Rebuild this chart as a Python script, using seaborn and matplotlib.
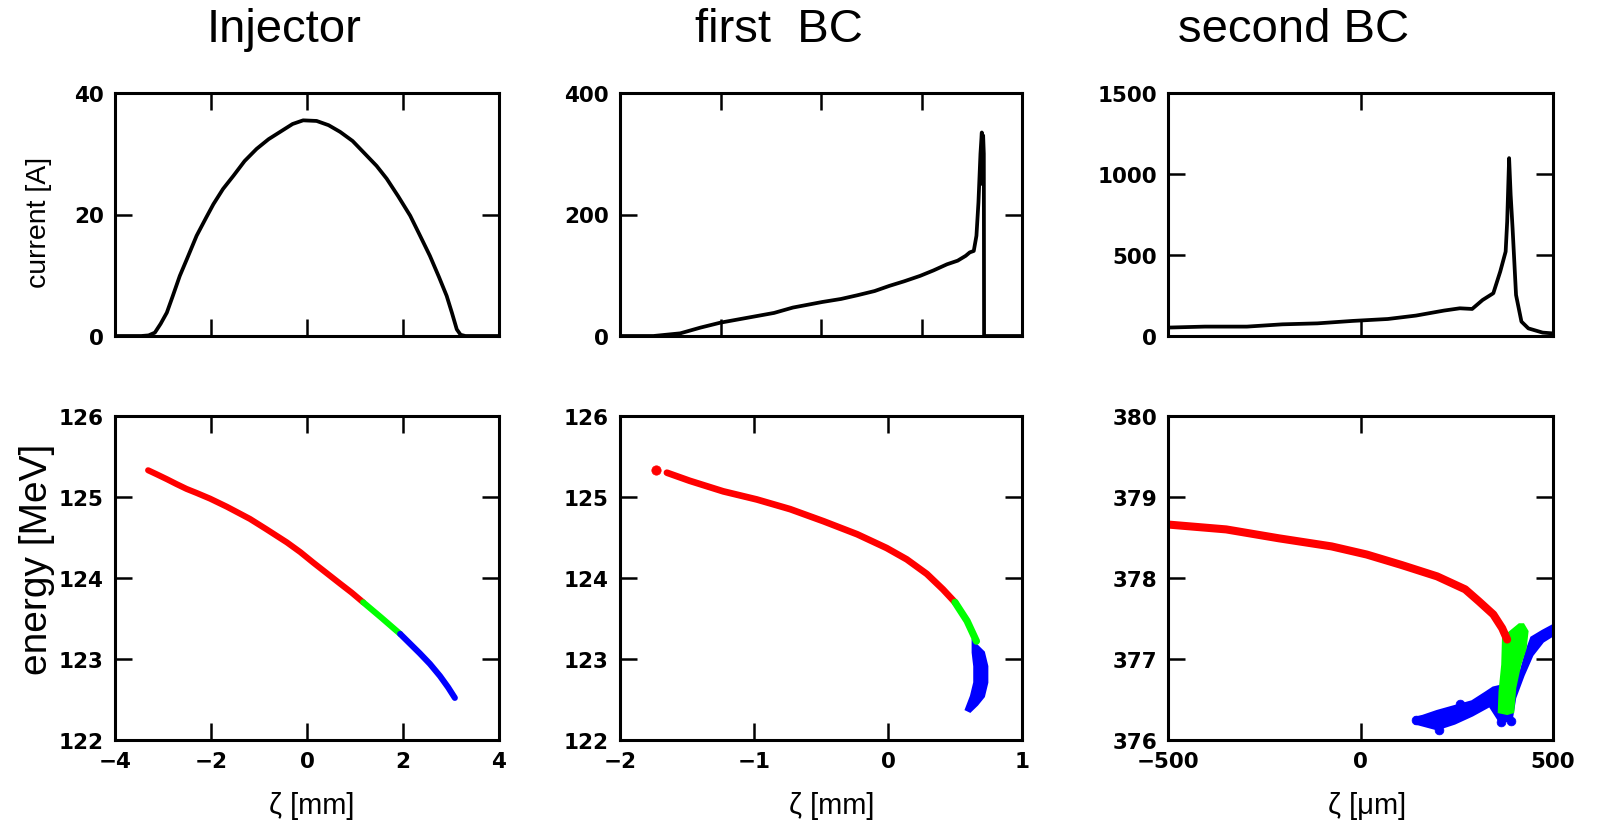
import matplotlib
matplotlib.use("Agg")
import matplotlib.pyplot as plt
import seaborn as sns
import pandas as pd

sns.set_style("ticks")
plt.rcParams['font.family'] = ['Liberation Sans', 'DejaVu Sans']
for key in ['text.color', 'axes.labelcolor', 'xtick.color', 'ytick.color', 'axes.edgecolor']:
    plt.rcParams[key] = 'black'

# column titles and axis labels
titles = ["Injector", "first  BC", "second BC"]
xlabels = ["\u03b6 [mm]", "\u03b6 [mm]", "\u03b6 [\u03bcm]"]
ylabels = ["current [A]", "energy [MeV]"]

# current profiles
inj_z = [-4, -3.45, -3.3, -3.17, -3.05, -2.92, -2.8, -2.65, -2.5, -2.30, -2.1, -1.95, -1.75,
         -1.53, -1.3, -1.05, -0.8, -0.56, -0.3, -0.08, 0.2, 0.45, 0.69, 0.95, 1.17, 1.45,
         1.66, 1.9, 2.15, 2.35, 2.56, 2.75, 2.91, 3.02, 3.12, 3.2, 3.3, 4]
inj_I = [0, 0, 0.1, 0.55, 2.0, 3.85, 6.5, 9.9, 12.7, 16.5, 19.5, 21.7, 24.2,
         26.4, 28.8, 30.8, 32.4, 33.6, 34.9, 35.5, 35.4, 34.7, 33.6, 32.1, 30.3, 28.0,
         25.9, 23.0, 19.8, 16.6, 13.2, 9.7, 6.6, 3.8, 1.1, 0.2, 0, 0]

bc1_z = [-2, -1.75, -1.55, -1.40, -1.25, -1.0, -0.85, -0.71, -0.49, -0.35, -0.23, -0.1, 0.01,
         0.12, 0.24, 0.34, 0.44, 0.52, 0.58, 0.61, 0.64, 0.66, 0.675, 0.69, 0.70, 0.705,
         0.71, 0.715, 0.717, 1.0]
bc1_I = [0, 0, 4.4, 13.8, 22, 32, 38, 46.8, 56, 61, 67, 74, 82.5,
         90, 99, 108, 118, 124, 132, 137.6, 140, 165, 220, 300, 335, 250,
         330, 300, 0, 0]

bc2_z = [-500, -404, -295, -203, -112, -21, 71, 144, 217, 258, 290, 317, 345, 363, 377,
         381, 386, 390, 395, 404, 418, 436, 473, 500]
bc2_I = [52, 58, 58, 72, 78, 93, 105, 126, 157, 171, 167, 222, 264, 398, 521,
         707, 1098, 871, 665, 253, 89, 47, 21, 16]

# energy vs position, red / green / blue slices
inj_red_z = [-3.31, -3.13, -2.92, -2.72, -2.51, -2.30, -2.02, -1.67, -1.19, -0.84, -0.42,
             -0.14, 0.13, 0.41, 0.69, 0.93, 1.17]
inj_red_E = [125.33, 125.28, 125.22, 125.16, 125.10, 125.05, 124.98, 124.88, 124.73, 124.60, 124.44,
             124.32, 124.19, 124.06, 123.93, 123.82, 123.70]
inj_green_z = [1.17, 1.55, 1.94]
inj_green_E = [123.70, 123.51, 123.31]
inj_blue_z = [1.94, 2.35, 2.56, 2.77, 2.94, 3.08]
inj_blue_E = [123.31, 123.07, 122.94, 122.79, 122.65, 122.52]

bc1_red_z = [-1.65, -1.48, -1.23, -0.98, -0.73, -0.48, -0.23, -0.01, 0.14, 0.29, 0.41, 0.50]
bc1_red_E = [125.30, 125.20, 125.07, 124.97, 124.85, 124.70, 124.54, 124.37, 124.23, 124.05, 123.86, 123.70]
bc1_dot_z = [-1.73]
bc1_dot_E = [125.33]
bc1_green_z = [0.50, 0.59, 0.66]
bc1_green_E = [123.70, 123.47, 123.22]
bc1_blue_z = [0.637, 0.711, 0.736, 0.736, 0.711, 0.662, 0.612, 0.587, 0.624, 0.649, 0.649, 0.637]
bc1_blue_E = [123.20, 123.08, 122.91, 122.71, 122.54, 122.44, 122.36, 122.38, 122.54, 122.71, 122.91, 123.08]

bc2_red_z = [-500, -349, -212, -75, 16, 107, 199, 272, 308, 345, 368, 381]
bc2_red_E = [378.66, 378.60, 378.49, 378.39, 378.29, 378.16, 378.02, 377.86, 377.71, 377.55, 377.38, 377.24]
bc2_green_z = [413, 372, 370, 363, 361, 381, 395, 400, 413, 427, 432, 422]
bc2_green_E = [377.42, 377.26, 376.93, 376.60, 376.35, 376.33, 376.35, 376.64, 376.93, 377.13, 377.34, 377.42]
bc2_blue_z = [144, 199, 244, 290, 336, 363, 391, 400, 422, 445, 473, 520,
              520, 473, 445, 432, 418, 381, 345, 326, 290, 244, 199, 162, 144]
bc2_blue_E = [376.21, 376.14, 376.21, 376.31, 376.43, 376.23, 376.25, 376.52, 376.80, 377.05, 377.22, 377.36,
              377.46, 377.34, 377.26, 377.09, 376.85, 376.68, 376.64, 376.58, 376.47, 376.41, 376.35, 376.29, 376.27]
bc2_dot_z = [144, 258, 205, 365, 390]
bc2_dot_E = [376.25, 376.45, 376.12, 376.22, 376.24]

currents = [(inj_z, inj_I), (bc1_z, bc1_I), (bc2_z, bc2_I)]
xlims = [(-4, 4), (-2, 1), (-500, 500)]
top_xticks = [[-4, -2, 0, 2, 4], [-2, -1.25, -0.5, 0.25, 1], [-500, 0, 500]]
bot_xticks = [[-4, -2, 0, 2, 4], [-2, -1, 0, 1], [-500, 0, 500]]
top_ylims = [(0, 40), (0, 400), (0, 1500)]
top_yticks = [[0, 20, 40], [0, 200, 400], [0, 500, 1000, 1500]]
bot_ylims = [(122, 126), (122, 126), (376, 380)]

RED, GREEN, BLUE = "#ff0000", "#00ff00", "#0000ff"

W, H = 1602, 829
fig = plt.figure(figsize=(W / 100, H / 100), dpi=100)

cols = [(115, 499), (620, 1022), (1168, 1553)]
rows = [(94, 337), (417, 741)]


def make_axes(col, row):
    l, r = cols[col]
    t, b = rows[row]
    return fig.add_axes([l / W, 1 - b / H, (r - l) / W, (b - t) / H])


def style(ax):
    ax.tick_params(direction='in', top=True, right=True, length=12, width=1.8, pad=8)
    for lab in ax.get_xticklabels() + ax.get_yticklabels():
        lab.set_fontfamily('DejaVu Sans')
        lab.set_fontweight('bold')
        lab.set_fontsize(15.5)
    for s in ax.spines.values():
        s.set_linewidth(2.2)
    ax.set_xlabel("")
    ax.set_ylabel("")


def band(ax, z, e, color, lw):
    df = pd.DataFrame({"z": z, "E": e})
    sns.lineplot(data=df, x="z", y="E", sort=False, estimator=None, color=color,
                 lw=lw, solid_capstyle='round', solid_joinstyle='round', ax=ax)


def blob(ax, z, e, color):
    ax.fill(z, e, color=color, lw=2.5, ec=color)


for i in range(3):
    ax = make_axes(i, 0)
    z, I = currents[i]
    sns.lineplot(x=z, y=I, sort=False, estimator=None, color="black", lw=2.7,
                 solid_joinstyle='round', ax=ax)
    ax.set_xlim(*xlims[i])
    ax.set_ylim(*top_ylims[i])
    ax.set_xticks(top_xticks[i])
    ax.set_yticks(top_yticks[i])
    ax.tick_params(labelbottom=False)
    style(ax)

# bottom row
ax1 = make_axes(0, 1)
band(ax1, inj_red_z, inj_red_E, RED, 4.4)
band(ax1, inj_green_z, inj_green_E, GREEN, 4.4)
band(ax1, inj_blue_z, inj_blue_E, BLUE, 4.4)

ax2 = make_axes(1, 1)
band(ax2, bc1_red_z, bc1_red_E, RED, 4.8)
sns.scatterplot(x=bc1_dot_z, y=bc1_dot_E, color=RED, s=45, edgecolor=RED, ax=ax2)
blob(ax2, bc1_blue_z, bc1_blue_E, BLUE)
band(ax2, bc1_green_z, bc1_green_E, GREEN, 5.2)

ax3 = make_axes(2, 1)
band(ax3, bc2_red_z, bc2_red_E, RED, 5.8)
blob(ax3, bc2_blue_z, bc2_blue_E, BLUE)
sns.scatterplot(x=bc2_dot_z, y=bc2_dot_E, color=BLUE, s=40, edgecolor=BLUE, ax=ax3)
blob(ax3, bc2_green_z, bc2_green_E, GREEN)

for i, ax in enumerate([ax1, ax2, ax3]):
    ax.set_xlim(*xlims[i])
    ax.set_ylim(*bot_ylims[i])
    ax.set_xticks(bot_xticks[i])
    ax.set_yticks(range(int(bot_ylims[i][0]), int(bot_ylims[i][1]) + 1))
    style(ax)

# titles and labels
for x, t in zip([284, 779, 1294], titles):
    fig.text(x / W, 1 - 30 / H, t, ha='center', va='center', fontsize=34)
for x, t in zip([312, 832, 1367], xlabels):
    fig.text(x / W, 1 - 806 / H, t, ha='center', va='center', fontsize=21)
narrow = ['Liberation Sans Narrow', 'Liberation Sans', 'DejaVu Sans']
fig.text(39 / W, 1 - 222 / H, ylabels[0], ha='center', va='center', rotation=90,
         fontsize=20.5, family=narrow)
fig.text(37 / W, 1 - 559 / H, ylabels[1], ha='center', va='center', rotation=90,
         fontsize=28, family=narrow)

fig.savefig("out.png", dpi=100)
